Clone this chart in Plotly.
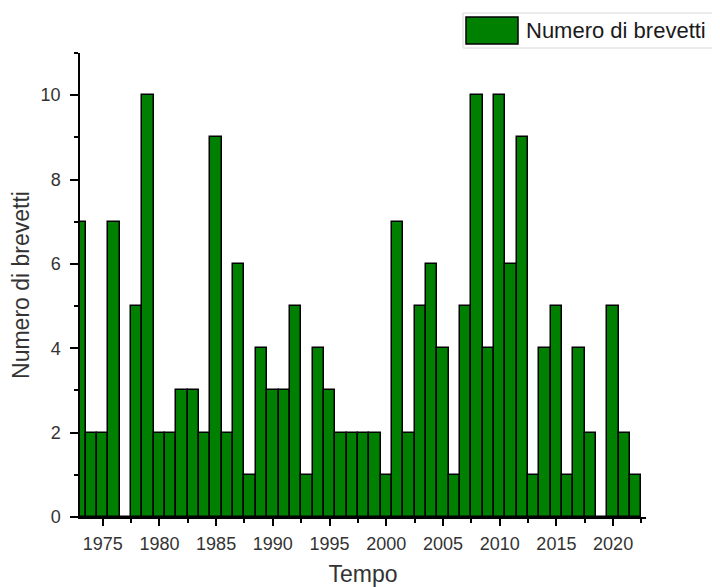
import plotly.graph_objects as go

years = list(range(1973, 2023))
brevetti = [7, 2, 2, 7, 0, 5, 10, 2, 2, 3,
            3, 2, 9, 2, 6, 1, 4, 3, 3, 5,
            1, 4, 3, 2, 2, 2, 2, 1, 7, 2,
            5, 6, 4, 1, 5, 10, 4, 10, 6, 9,
            1, 4, 5, 1, 4, 2, 0, 5, 2, 1]
x_tick_vals = [1975, 1980, 1985, 1990, 1995, 2000, 2005, 2010, 2015, 2020]
y_tick_vals = [0, 2, 4, 6, 8, 10]
series_name = "Numero di brevetti"

GREEN = "#008000"
TXT = "#333333"

fig = go.Figure()
fig.add_trace(go.Bar(
    x=years, y=brevetti, name=series_name, width=1,
    marker=dict(color=GREEN, line=dict(color="black", width=1.5)),
    showlegend=False,
))

# page body has an 8px margin, so the figure is drawn 8px in from top-left
OFF = 8
W, H = 720 - OFF, 587 - OFF
# plot area in window pixels: x 80..646, y 53..517
L, R, T, B = 80 - OFF, 720 - 646, 53 - OFF, 587 - 517
pw, ph = W - L - R, H - T - B

def px(x):
    return (x - OFF - L) / pw

def py(y):
    return (H - B - (y - OFF)) / ph

fig.update_layout(
    width=W, height=H,
    margin=dict(l=L, r=R, t=T, b=B, autoexpand=False),
    paper_bgcolor="white", plot_bgcolor="white",
    bargap=0,
    font=dict(family="Arial, Liberation Sans, sans-serif", color=TXT),
    xaxis=dict(
        range=[1973, 2022.9], automargin=False,
        tickmode="array", tickvals=x_tick_vals,
        ticks="outside", ticklen=7, tickwidth=1.5, tickcolor="black",
        showline=True, linecolor="black", linewidth=1.5,
        showgrid=False, zeroline=False,
        tickfont=dict(size=18, color=TXT),
        ticklabelstandoff=3,
        minor=dict(dtick=2.5, tick0=1972.5, ticks="outside", ticklen=4,
                   tickwidth=1.5, tickcolor="black", showgrid=False),
        title=dict(text="Tempo", font=dict(size=23, color=TXT), standoff=14),
    ),
    yaxis=dict(
        range=[0, 11], automargin=False,
        tickmode="array", tickvals=y_tick_vals,
        ticks="outside", ticklen=8, tickwidth=1.5, tickcolor="black",
        showline=True, linecolor="black", linewidth=1.5,
        showgrid=False, zeroline=False,
        tickfont=dict(size=18, color=TXT),
        ticklabelstandoff=6,
        minor=dict(dtick=1, tick0=1, ticks="outside", ticklen=4,
                   tickwidth=1.5, tickcolor="black", showgrid=False),
        title=dict(text=series_name, font=dict(size=23, color=TXT), standoff=6),
    ),
    shapes=[
        dict(type="rect", xref="paper", yref="paper",
             x0=px(463), x1=px(719), y0=py(48), y1=py(13),
             line=dict(color="#d8d8d8", width=1), fillcolor="white"),
        dict(type="rect", xref="paper", yref="paper",
             x0=px(466), x1=px(518), y0=py(44), y1=py(17),
             line=dict(color="black", width=1.5), fillcolor=GREEN),
    ],
    annotations=[
        dict(text=series_name, xref="paper", yref="paper",
             x=px(524), y=py(30.5), xanchor="left", yanchor="middle",
             showarrow=False, font=dict(size=22, color="#1a1a1a")),
    ],
)

fig.write_html("out.html")
